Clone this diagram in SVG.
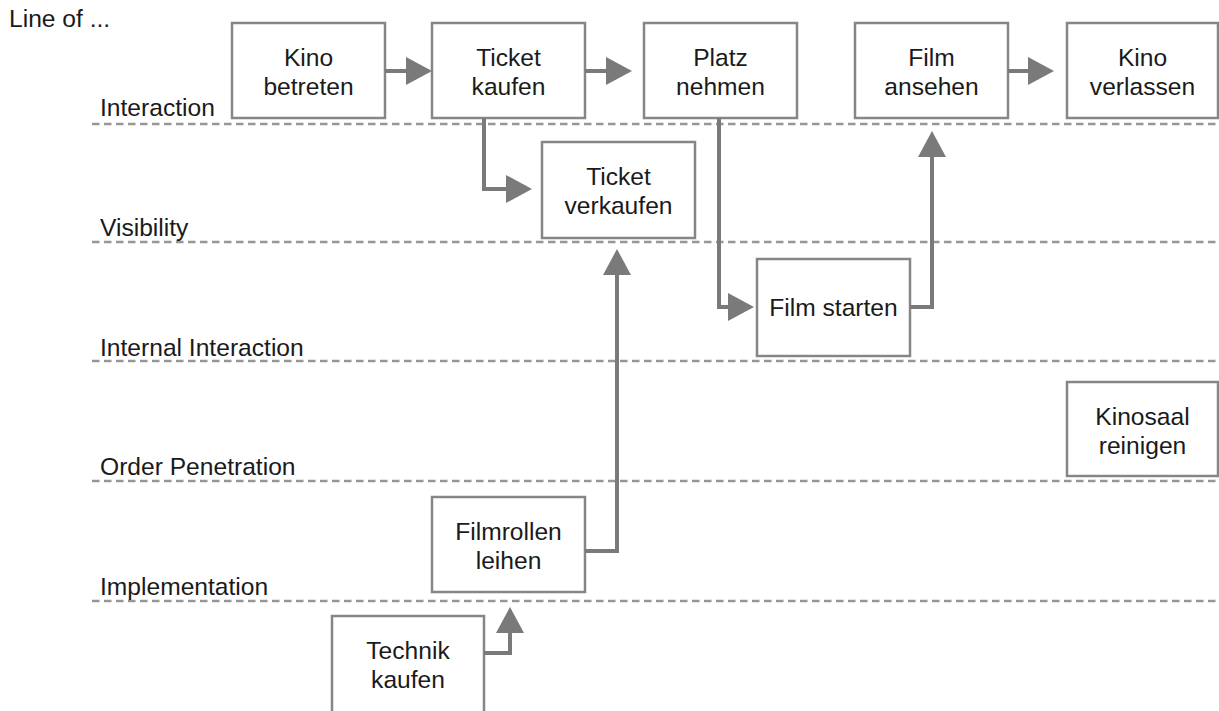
<svg xmlns="http://www.w3.org/2000/svg" width="1219" height="711" viewBox="0 0 1219 711">
  <style>
    text { font-family: "Liberation Sans", Arial, sans-serif; font-size: 24.6px; fill: #1a1a1a; }
    .node text { text-anchor: middle; }
    .box { fill: #ffffff; stroke: #868686; stroke-width: 2.5; }
    .lane { stroke: #969696; stroke-width: 2.5; stroke-dasharray: 7.5 4.5; fill: none; }
    .conn { stroke: #7a7a7a; stroke-width: 4; fill: none; marker-end: url(#head); }
  </style>
  <defs>
    <marker id="head" markerUnits="userSpaceOnUse" markerWidth="27" markerHeight="28" refX="0" refY="14" orient="auto">
      <path d="M0,0 L26,14 L0,28 z" fill="#7a7a7a"/>
    </marker>
  </defs>
  <rect width="1219" height="711" fill="#ffffff"/>

  <!-- lines of visibility -->
  <g id="lanes">
    <text x="9" y="27">Line of ...</text>
    <line class="lane" x1="92" y1="124" x2="1219" y2="124"/>
    <text x="100" y="116">Interaction</text>
    <line class="lane" x1="92" y1="242" x2="1219" y2="242"/>
    <text x="100" y="236">Visibility</text>
    <line class="lane" x1="92" y1="361" x2="1219" y2="361"/>
    <text x="100" y="356">Internal Interaction</text>
    <line class="lane" x1="92" y1="481" x2="1219" y2="481"/>
    <text x="100" y="475">Order Penetration</text>
    <line class="lane" x1="92" y1="601" x2="1219" y2="601"/>
    <text x="100" y="595">Implementation</text>
  </g>

  <!-- process steps -->
  <g id="kino-betreten" class="node">
    <rect class="box" x="232" y="23" width="153" height="95"/>
    <text x="308.5" y="66">Kino</text>
    <text x="308.5" y="95">betreten</text>
  </g>
  <g id="ticket-kaufen" class="node">
    <rect class="box" x="432" y="23" width="153" height="95"/>
    <text x="508.5" y="66">Ticket</text>
    <text x="508.5" y="95">kaufen</text>
  </g>
  <g id="platz-nehmen" class="node">
    <rect class="box" x="644" y="23" width="153" height="95"/>
    <text x="720.5" y="66">Platz</text>
    <text x="720.5" y="95">nehmen</text>
  </g>
  <g id="film-ansehen" class="node">
    <rect class="box" x="855" y="23" width="153" height="95"/>
    <text x="931.5" y="66">Film</text>
    <text x="931.5" y="95">ansehen</text>
  </g>
  <g id="kino-verlassen" class="node">
    <rect class="box" x="1067" y="23" width="151" height="95"/>
    <text x="1142.5" y="66">Kino</text>
    <text x="1142.5" y="95">verlassen</text>
  </g>
  <g id="ticket-verkaufen" class="node">
    <rect class="box" x="542" y="142" width="153" height="96"/>
    <text x="618.5" y="185">Ticket</text>
    <text x="618.5" y="214">verkaufen</text>
  </g>
  <g id="film-starten" class="node">
    <rect class="box" x="757" y="259" width="153" height="97"/>
    <text x="833.5" y="316">Film starten</text>
  </g>
  <g id="kinosaal-reinigen" class="node">
    <rect class="box" x="1067" y="382" width="151" height="94"/>
    <text x="1142.5" y="425">Kinosaal</text>
    <text x="1142.5" y="454">reinigen</text>
  </g>
  <g id="filmrollen-leihen" class="node">
    <rect class="box" x="432" y="497" width="153" height="95"/>
    <text x="508.5" y="540">Filmrollen</text>
    <text x="508.5" y="569">leihen</text>
  </g>
  <g id="technik-kaufen" class="node">
    <rect class="box" x="332" y="616" width="152" height="100"/>
    <text x="408" y="659">Technik</text>
    <text x="408" y="688">kaufen</text>
  </g>

  <!-- flow connectors -->
  <g id="connectors">
    <path class="conn" d="M385,71 H406"/>
    <path class="conn" d="M585,71 H606"/>
    <path class="conn" d="M1008,71 H1028"/>
    <path class="conn" d="M484,118 V189 H506"/>
    <path class="conn" d="M719,118 V307 H728"/>
    <path class="conn" d="M910,307 H932 V157"/>
    <path class="conn" d="M585,551 H617 V275"/>
    <path class="conn" d="M484,653 H510 V633"/>
  </g>
</svg>
